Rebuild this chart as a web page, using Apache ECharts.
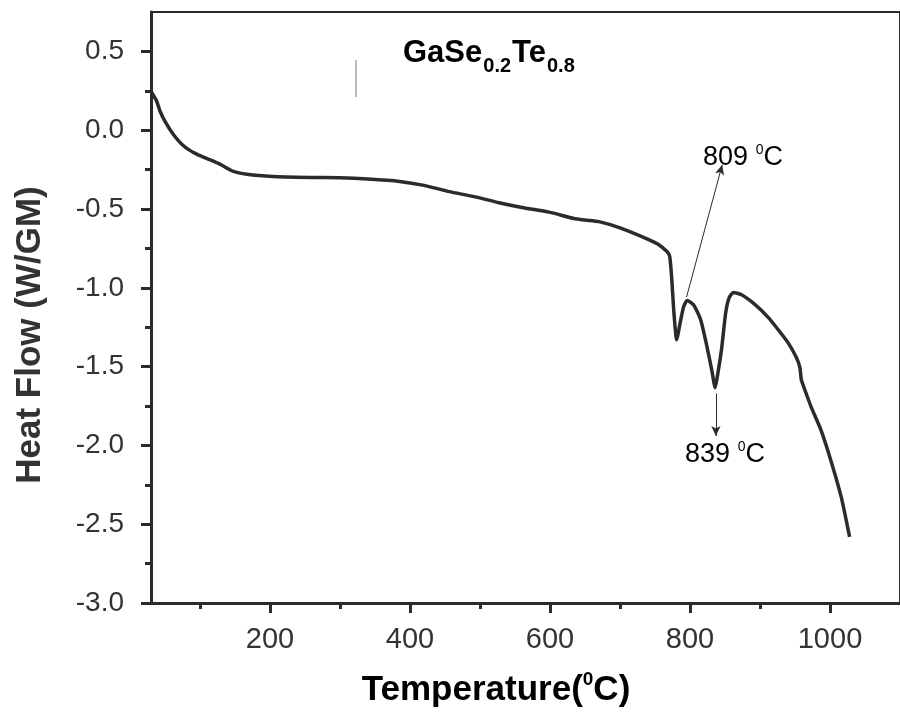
<!DOCTYPE html>
<html>
<head>
<meta charset="utf-8">
<script src="https://cdn.jsdelivr.net/npm/echarts@6/dist/echarts.min.js"></script>
<style>html,body{margin:0;padding:0;background:#fff}#c{width:900px;height:715px}</style>
</head>
<body>
<div id="c"></div>
<script>
// Data
var temperature = [31, 38, 43, 50, 62, 76, 93, 110, 129, 147, 167, 204, 260, 300, 340, 385, 420, 456, 490, 527, 560, 599, 634, 650, 670, 700, 741, 755, 767, 771, 774, 777, 781, 786, 791, 796, 805, 815, 823, 831, 836, 839, 845, 851, 856, 862, 873, 893, 912, 926, 940, 952, 957, 959, 964, 973, 987, 1001, 1016, 1028];
var heatFlow = [0.24, 0.185, 0.12, 0.056, -0.027, -0.097, -0.147, -0.18, -0.217, -0.26, -0.28, -0.294, -0.30, -0.302, -0.31, -0.325, -0.35, -0.39, -0.42, -0.46, -0.49, -0.52, -0.56, -0.57, -0.58, -0.62, -0.694, -0.725, -0.77, -0.80, -0.948, -1.157, -1.329, -1.221, -1.119, -1.081, -1.107, -1.20, -1.348, -1.52, -1.634, -1.564, -1.393, -1.158, -1.062, -1.03, -1.043, -1.107, -1.189, -1.266, -1.348, -1.443, -1.507, -1.583, -1.647, -1.755, -1.901, -2.092, -2.327, -2.581];
var xMajorTicks = [200, 400, 600, 800, 1000];
var xMinorTicks = [100, 300, 500, 700, 900];
var yMajorTicks = [-3.0, -2.5, -2.0, -1.5, -1.0, -0.5, 0.0, 0.5];
var yMinorTicks = [-2.75, -2.25, -1.75, -1.25, -0.75, -0.25, 0.25];
var peak1 = {label: '809', from: [795, -1.06], to: [846, -0.22]};
var peak2 = {label: '839', from: [837, -1.67], to: [837, -1.94]};

var xRange = [30, 1100];
var yRange = [-3, 0.75];
var ink = '#2b2b2b';
var fontFam = '"Liberation Sans", Arial, sans-serif';

var chart = echarts.init(document.getElementById('c'), null, {renderer: 'canvas'});

function xAxisDef(ticks, len, labels, showLine) {
  return {
    type: 'value', min: xRange[0], max: xRange[1], position: 'bottom',
    splitLine: {show: false},
    axisLine: {show: showLine, onZero: false, lineStyle: {color: ink, width: 3}},
    axisTick: {show: true, inside: false, length: len, customValues: ticks, lineStyle: {color: ink, width: 3}},
    axisLabel: {show: labels, customValues: ticks, margin: 22, color: '#333', fontSize: 29, fontFamily: fontFam,
      formatter: function (v) { return String(v); }}
  };
}
function yAxisDef(ticks, len, labels, showLine) {
  return {
    type: 'value', min: yRange[0], max: yRange[1], position: 'left',
    splitLine: {show: false},
    axisLine: {show: showLine, onZero: false, lineStyle: {color: ink, width: 3}},
    axisTick: {show: true, inside: false, length: len, customValues: ticks, lineStyle: {color: ink, width: 3}},
    axisLabel: {show: labels, customValues: ticks, margin: 27, color: '#333', fontSize: 28, fontFamily: fontFam,
      formatter: function (v) { return v.toFixed(1); }}
  };
}

var sup = {fontSize: 14, padding: [0, 0, 16, 0], color: '#333', fontFamily: fontFam};

var option = {
  backgroundColor: '#ffffff',
  animation: false,
  grid: {left: 151, right: -3, top: 12, bottom: 112, show: true, borderColor: ink, borderWidth: 2, backgroundColor: 'transparent'},
  xAxis: [xAxisDef(xMajorTicks, 10, true, true), xAxisDef(xMinorTicks, 6, false, false)],
  yAxis: [yAxisDef(yMajorTicks, 10, true, true), yAxisDef(yMinorTicks, 6, false, false)],
  series: [{
    type: 'line',
    data: temperature.map(function (t, i) { return [t, heatFlow[i]]; }),
    showSymbol: false,
    smooth: 0.2,
    lineStyle: {color: ink, width: 3.5},
    markLine: {
      silent: true,
      symbol: ['none', 'arrow'],
      symbolSize: [7, 10],
      label: {show: false},
      lineStyle: {color: ink, width: 1, type: 'solid'},
      data: [
        [{coord: peak1.from}, {coord: peak1.to}],
        [{coord: peak2.from}, {coord: peak2.to}]
      ]
    }
  }],
  graphic: [
    {type: 'text', left: 403, top: 38, style: {
      text: '{b|GaSe}{s|0.2}{b|Te}{s|0.8}',
      rich: {
        b: {fontSize: 31, fontWeight: 'bold', color: '#333', fontFamily: fontFam},
        s: {fontSize: 20, fontWeight: 'bold', color: '#333', fontFamily: fontFam, padding: [26, 1, 0, 1]}
      }
    }},
    {type: 'line', shape: {x1: 356, y1: 60, x2: 356, y2: 97}, style: {stroke: '#777', lineWidth: 1}},
    {type: 'text', x: 743, y: 158, style: {
      text: '{n|' + peak1.label + ' }{s|0}{n|C}', align: 'center', verticalAlign: 'middle',
      rich: {n: {fontSize: 27, color: '#333', fontFamily: fontFam}, s: sup}
    }},
    {type: 'text', x: 725, y: 455, style: {
      text: '{n|' + peak2.label + ' }{s|0}{n|C}', align: 'center', verticalAlign: 'middle',
      rich: {n: {fontSize: 27, color: '#333', fontFamily: fontFam}, s: sup}
    }},
    {type: 'text', x: 496, y: 690, style: {
      text: '{n|Temperature(}{s|0}{n|C)}', align: 'center', verticalAlign: 'middle',
      rich: {
        n: {fontSize: 35, fontWeight: 'bold', color: '#333', fontFamily: fontFam},
        s: {fontSize: 19, fontWeight: 'bold', color: '#333', fontFamily: fontFam, padding: [0, 0, 20, 0]}
      }
    }},
    {type: 'text', x: 30, y: 335, rotation: Math.PI / 2, style: {
      text: 'Heat Flow (W/GM)', align: 'center', verticalAlign: 'middle',
      fontSize: 35, fontWeight: 'bold', fill: '#333', fontFamily: fontFam
    }}
  ]
};
chart.setOption(option);
</script>
</body>
</html>
